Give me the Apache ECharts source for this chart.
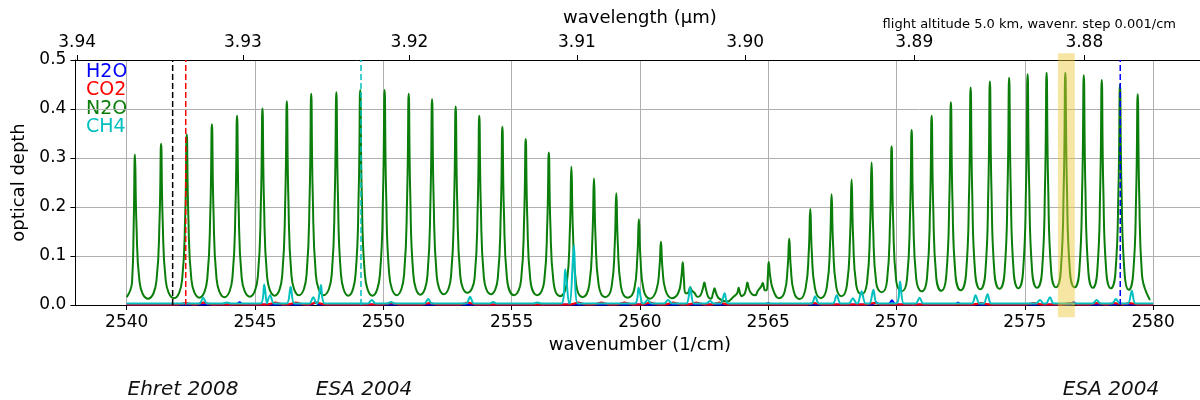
<!DOCTYPE html>
<html lang="en">
<head>
<meta charset="utf-8">
<style>
    html, body { margin: 0; padding: 0; background: #fff; }
    #container { width: 1200px; height: 400px; }
</style>
</head>
<body>
<div id="container"></div>
<script src="https://cdn.jsdelivr.net/npm/echarts@6/dist/echarts.min.js"></script>
<script>
    // wavenumber axis (1/cm) and wavelength ticks (µm) for the top axis
    var xRange = [2538, 2582];
    var xTicks = [2540, 2545, 2550, 2555, 2560, 2565, 2570, 2575, 2580];
    var wlTicks = [3.94, 3.93, 3.92, 3.91, 3.90, 3.89, 3.88];

    // N2O lines: centre, peak, value near half width, wing value, valleys between lines
    var n2oStart = [2540.0, 0.016];
    var n2oEnd = [2579.88, 0.010];
    var n2oCenter = [
        2540.32, 2541.34, 2542.34, 2543.32, 2544.30, 2545.29, 2546.24, 2547.19, 2548.17, 2549.10,
        2550.05, 2550.99, 2551.90, 2552.82, 2553.74, 2554.64, 2555.55, 2556.45, 2557.33, 2558.21,
        2559.08, 2559.96, 2560.82, 2561.67, 2561.96, 2562.51, 2562.91, 2563.85, 2564.19, 2564.79,
        2565.02, 2565.82, 2566.64, 2567.47, 2568.25, 2569.03, 2569.81, 2570.59, 2571.37, 2572.12,
        2572.89, 2573.64, 2574.39, 2575.11, 2575.85, 2576.58, 2577.30, 2578.00, 2578.71, 2579.40
    ];
    var n2oPeak = [
        0.307, 0.329, 0.348, 0.369, 0.386, 0.401, 0.416, 0.431, 0.434, 0.439,
        0.439, 0.431, 0.420, 0.405, 0.386, 0.364, 0.339, 0.311, 0.282, 0.258,
        0.228, 0.175, 0.129, 0.087, 0.036, 0.046, 0.034, 0.035, 0.046, 0.045,
        0.088, 0.135, 0.196, 0.226, 0.256, 0.291, 0.324, 0.357, 0.386, 0.414,
        0.444, 0.456, 0.464, 0.471, 0.474, 0.474, 0.469, 0.459, 0.450, 0.430
    ];
    var n2oHalf = [
        0.164, 0.175, 0.184, 0.195, 0.203, 0.210, 0.218, 0.226, 0.227, 0.230,
        0.230, 0.226, 0.220, 0.212, 0.203, 0.192, 0.180, 0.166, 0.151, 0.139,
        0.124, 0.098, 0.075, 0.054, 0.030, 0.033, 0.024, 0.024, 0.033, 0.038,
        0.058, 0.078, 0.108, 0.123, 0.138, 0.156, 0.172, 0.188, 0.203, 0.217,
        0.232, 0.238, 0.242, 0.246, 0.247, 0.247, 0.245, 0.240, 0.235, 0.225
    ];
    var n2oWing = [
        0.047, 0.050, 0.052, 0.054, 0.056, 0.058, 0.060, 0.062, 0.062, 0.063,
        0.063, 0.062, 0.060, 0.059, 0.056, 0.054, 0.051, 0.048, 0.044, 0.042,
        0.038, 0.032, 0.030, 0.024, 0.024, 0.018, 0.013, 0.018, 0.022, 0.030,
        0.030, 0.027, 0.035, 0.038, 0.041, 0.045, 0.049, 0.053, 0.056, 0.060,
        0.063, 0.064, 0.065, 0.066, 0.067, 0.067, 0.066, 0.065, 0.064, 0.061
    ];
    var n2oValley = [
        0.013, 0.014, 0.015, 0.016, 0.017, 0.019, 0.020, 0.020, 0.019,
        0.019, 0.020, 0.021, 0.022, 0.025, 0.022, 0.020, 0.020, 0.018, 0.016,
        0.016, 0.015, 0.013, 0.014, 0.024, 0.017, 0.014, 0.007, 0.020, 0.020,
        0.030, 0.014, 0.012, 0.014, 0.018, 0.022, 0.026, 0.028, 0.028, 0.029,
        0.030, 0.032, 0.033, 0.034, 0.035, 0.036, 0.036, 0.035, 0.034, 0.031
    ];

    // CH4 lines
    var ch4Base = 0.003;
    var ch4Center = [
        2542.98, 2543.90, 2545.36, 2545.59, 2546.39, 2547.27, 2547.57, 2549.55, 2550.30, 2551.75,
        2553.38, 2554.28, 2556.00, 2557.09, 2557.43, 2559.95, 2560.30, 2561.10, 2561.96, 2562.73,
        2563.30, 2566.83, 2567.67, 2568.30, 2568.64, 2569.10, 2570.14, 2570.90, 2573.08, 2573.55,
        2575.59, 2575.98, 2577.80, 2578.55, 2579.17
    ];
    var ch4Peak = [
        0.015, 0.005, 0.042, 0.020, 0.037, 0.016, 0.041, 0.010, 0.006, 0.012,
        0.017, 0.006, 0.005, 0.073, 0.122, 0.035, 0.010, 0.010, 0.036, 0.008,
        0.024, 0.018, 0.020, 0.014, 0.028, 0.031, 0.048, 0.015, 0.020, 0.022,
        0.010, 0.016, 0.010, 0.012, 0.029
    ];

    // H2O lines
    var h2oBase = 0.001;
    var h2oCenter = [2544.40, 2547.35, 2565.00, 2569.20, 2569.82, 2572.40, 2576.90, 2578.70];
    var h2oPeak = [0.006, 0.006, 0.004, 0.006, 0.010, 0.005, 0.006, 0.004];

    // CO2 lines
    var co2Base = 0.001;
    var co2Center = [
        2542.30, 2543.00, 2545.80, 2546.60, 2547.40, 2550.30, 2551.80, 2553.30, 2557.60, 2558.50,
        2559.40, 2560.40, 2561.30, 2562.20, 2563.10, 2566.80, 2569.10, 2573.30, 2575.35, 2576.75,
        2577.80, 2578.50, 2579.10
    ];
    var co2Peak = [
        0.004, 0.005, 0.005, 0.005, 0.005, 0.004, 0.004, 0.005, 0.005, 0.005,
        0.005, 0.005, 0.005, 0.005, 0.005, 0.004, 0.004, 0.004, 0.004, 0.004,
        0.004, 0.004, 0.004
    ];

    // reference lines and highlighted band (1/cm)
    var refLines = [2541.79, 2542.30, 2549.13, 2578.72];
    var refColors = ['#000000', '#ff0000', '#00bfbf', '#0000ff'];
    var highlightBand = [2576.29, 2576.95];

    var gasNames = ['H2O', 'CO2', 'N2O', 'CH4'];
    var gasColors = ['#0000ff', '#ff0000', '#0a7d0a', '#00bfbf'];

    var notes = ['Ehret 2008', 'ESA 2004', 'ESA 2004'];

    // build the N2O line as a polyline through the read points
    function n2oCurve() {
        var pts = [n2oStart];
        for (var i = 0; i < n2oCenter.length; i++) {
            var c = n2oCenter[i];
            var gl = c - (i > 0 ? n2oCenter[i - 1] : n2oStart[0]);
            var gr = (i < n2oCenter.length - 1 ? n2oCenter[i + 1] : n2oEnd[0]) - c;
            var wl = Math.min(0.18, 0.35 * gl), wr = Math.min(0.18, 0.35 * gr);
            var hl = Math.min(0.06, 0.15 * gl), hr = Math.min(0.06, 0.15 * gr);
            pts.push([c - wl, n2oWing[i]], [c - hl, n2oHalf[i]], [c, n2oPeak[i]],
                     [c + hr, n2oHalf[i]], [c + wr, n2oWing[i]]);
            if (i < n2oCenter.length - 1) {
                pts.push([(c + n2oCenter[i + 1]) / 2, n2oValley[i]]);
            }
        }
        pts.push(n2oEnd);
        return pts;
    }

    // small lines on a flat base
    function spikes(centers, peaks, base, width) {
        var pts = [[2540, base]];
        for (var i = 0; i < centers.length; i++) {
            var c = centers[i];
            var gl = c - (i > 0 ? centers[i - 1] : 2540);
            var gr = (i < centers.length - 1 ? centers[i + 1] : 2580) - c;
            pts.push([c - Math.min(width, 0.45 * gl), base], [c, peaks[i]],
                     [c + Math.min(width, 0.45 * gr), base]);
        }
        pts.push([2580, base]);
        return pts;
    }

    var font = 'DejaVu Sans';
    var dom = document.getElementById('container');
    var myChart = echarts.init(dom, null, { renderer: 'canvas' });

    function lineSeries(name, data, color, width) {
        return {
            name: name,
            type: 'line',
            data: data,
            showSymbol: false,
            symbol: 'none',
            lineStyle: { color: color, width: width },
            itemStyle: { color: color },
            silent: true,
            animation: false
        };
    }

    var series = [
        lineSeries('H2O', spikes(h2oCenter, h2oPeak, h2oBase, 0.12), gasColors[0], 2),
        lineSeries('CO2', spikes(co2Center, co2Peak, co2Base, 0.3), gasColors[1], 2),
        lineSeries('N2O', n2oCurve(), gasColors[2], 2),
        lineSeries('CH4', spikes(ch4Center, ch4Peak, ch4Base, 0.15), gasColors[3], 2)
    ];
    series[2].smooth = 0.5;
    series[3].smooth = 0.3;

    refLines.forEach(function (x, i) {
        var s = lineSeries('ref' + i, [[x, 0], [x, 0.5]], refColors[i], 1.5);
        s.lineStyle.type = [6, 3];
        series.push(s);
    });

    series.push({
        type: 'custom',
        clip: false,
        silent: true,
        z: 10,
        animation: false,
        encode: { x: [0, 1], y: [2, 3] },
        renderItem: function (params, api) {
            var p0 = api.coord([api.value(0), api.value(2)]);
            var p1 = api.coord([api.value(1), api.value(3)]);
            return {
                type: 'rect',
                shape: { x: p0[0], y: p1[1], width: p1[0] - p0[0], height: p0[1] - p1[1] },
                style: { fill: 'rgba(235, 200, 50, 0.45)' }
            };
        },
        data: [[highlightBand[0], highlightBand[1], -0.025, 0.514]]
    });

    var legendTexts = gasNames.map(function (n, i) {
        return {
            type: 'text', x: 86, y: 72 + i * 18.5,
            style: { text: n, fill: gasColors[i], font: '19px "' + font + '"', verticalAlign: 'middle' }
        };
    });
    var noteX = [183, 364, 1111];
    var noteTexts = notes.map(function (t, i) {
        return {
            type: 'text', x: noteX[i], y: 390,
            style: { text: t, fill: '#111', font: 'italic 20px "' + font + '"', align: 'center', verticalAlign: 'middle' }
        };
    });

    var option = {
        animation: false,
        backgroundColor: '#fff',
        grid: { left: 75.4, top: 60, width: 1129, height: 245, outerBoundsMode: 'none', containLabel: false },
        xAxis: [
            {
                type: 'value', position: 'bottom', min: xRange[0], max: xRange[1],
                name: 'wavenumber (1/cm)', nameLocation: 'middle', nameGap: 31,
                nameTextStyle: { fontFamily: font, fontSize: 18, color: '#000' },
                axisLine: { show: true, onZero: false, lineStyle: { color: '#000', width: 1 } },
                axisTick: { show: true, inside: false, length: 5, customValues: xTicks, lineStyle: { color: '#000' } },
                axisLabel: {
                    customValues: xTicks,
                    formatter: function (v) { return String(v); },
                    margin: 9, fontFamily: font, fontSize: 17, color: '#000'
                },
                splitLine: { show: true, lineStyle: { color: '#b0b0b0', width: 1 } }
            },
            {
                type: 'value', position: 'top', min: xRange[0], max: xRange[1],
                name: 'wavelength (µm)', nameLocation: 'middle', nameGap: 33,
                nameTextStyle: { fontFamily: font, fontSize: 18, color: '#000' },
                axisLine: { show: true, onZero: false, lineStyle: { color: '#000', width: 1 } },
                axisTick: {
                    show: true, inside: false, length: 5,
                    customValues: wlTicks.map(function (w) { return 10000 / w; }),
                    lineStyle: { color: '#000' }
                },
                axisLabel: {
                    customValues: wlTicks.map(function (w) { return 10000 / w; }),
                    formatter: function (v) { return (10000 / v).toFixed(2); },
                    margin: 9, fontFamily: font, fontSize: 17, color: '#000'
                },
                splitLine: { show: false }
            }
        ],
        yAxis: {
            type: 'value', min: 0, max: 0.5, interval: 0.1,
            name: 'optical depth', nameLocation: 'middle', nameGap: 43,
            nameTextStyle: { fontFamily: font, fontSize: 18, color: '#000' },
            axisLine: { show: true, lineStyle: { color: '#000', width: 1 } },
            axisTick: { show: true, inside: false, length: 5, lineStyle: { color: '#000' } },
            axisLabel: {
                formatter: function (v) { return v.toFixed(1); },
                margin: 9, fontFamily: font, fontSize: 17, color: '#000'
            },
            splitLine: { show: true, lineStyle: { color: '#b0b0b0', width: 1 } }
        },
        graphic: [
            {
                type: 'text', x: 1176, y: 25,
                style: {
                    text: 'flight altitude 5.0 km, wavenr. step 0.001/cm',
                    fill: '#000', font: '13px "' + font + '"', align: 'right', verticalAlign: 'middle'
                }
            }
        ].concat(legendTexts, noteTexts),
        series: series
    };

    myChart.setOption(option);
    window.addEventListener('resize', myChart.resize);
</script>
</body>
</html>
